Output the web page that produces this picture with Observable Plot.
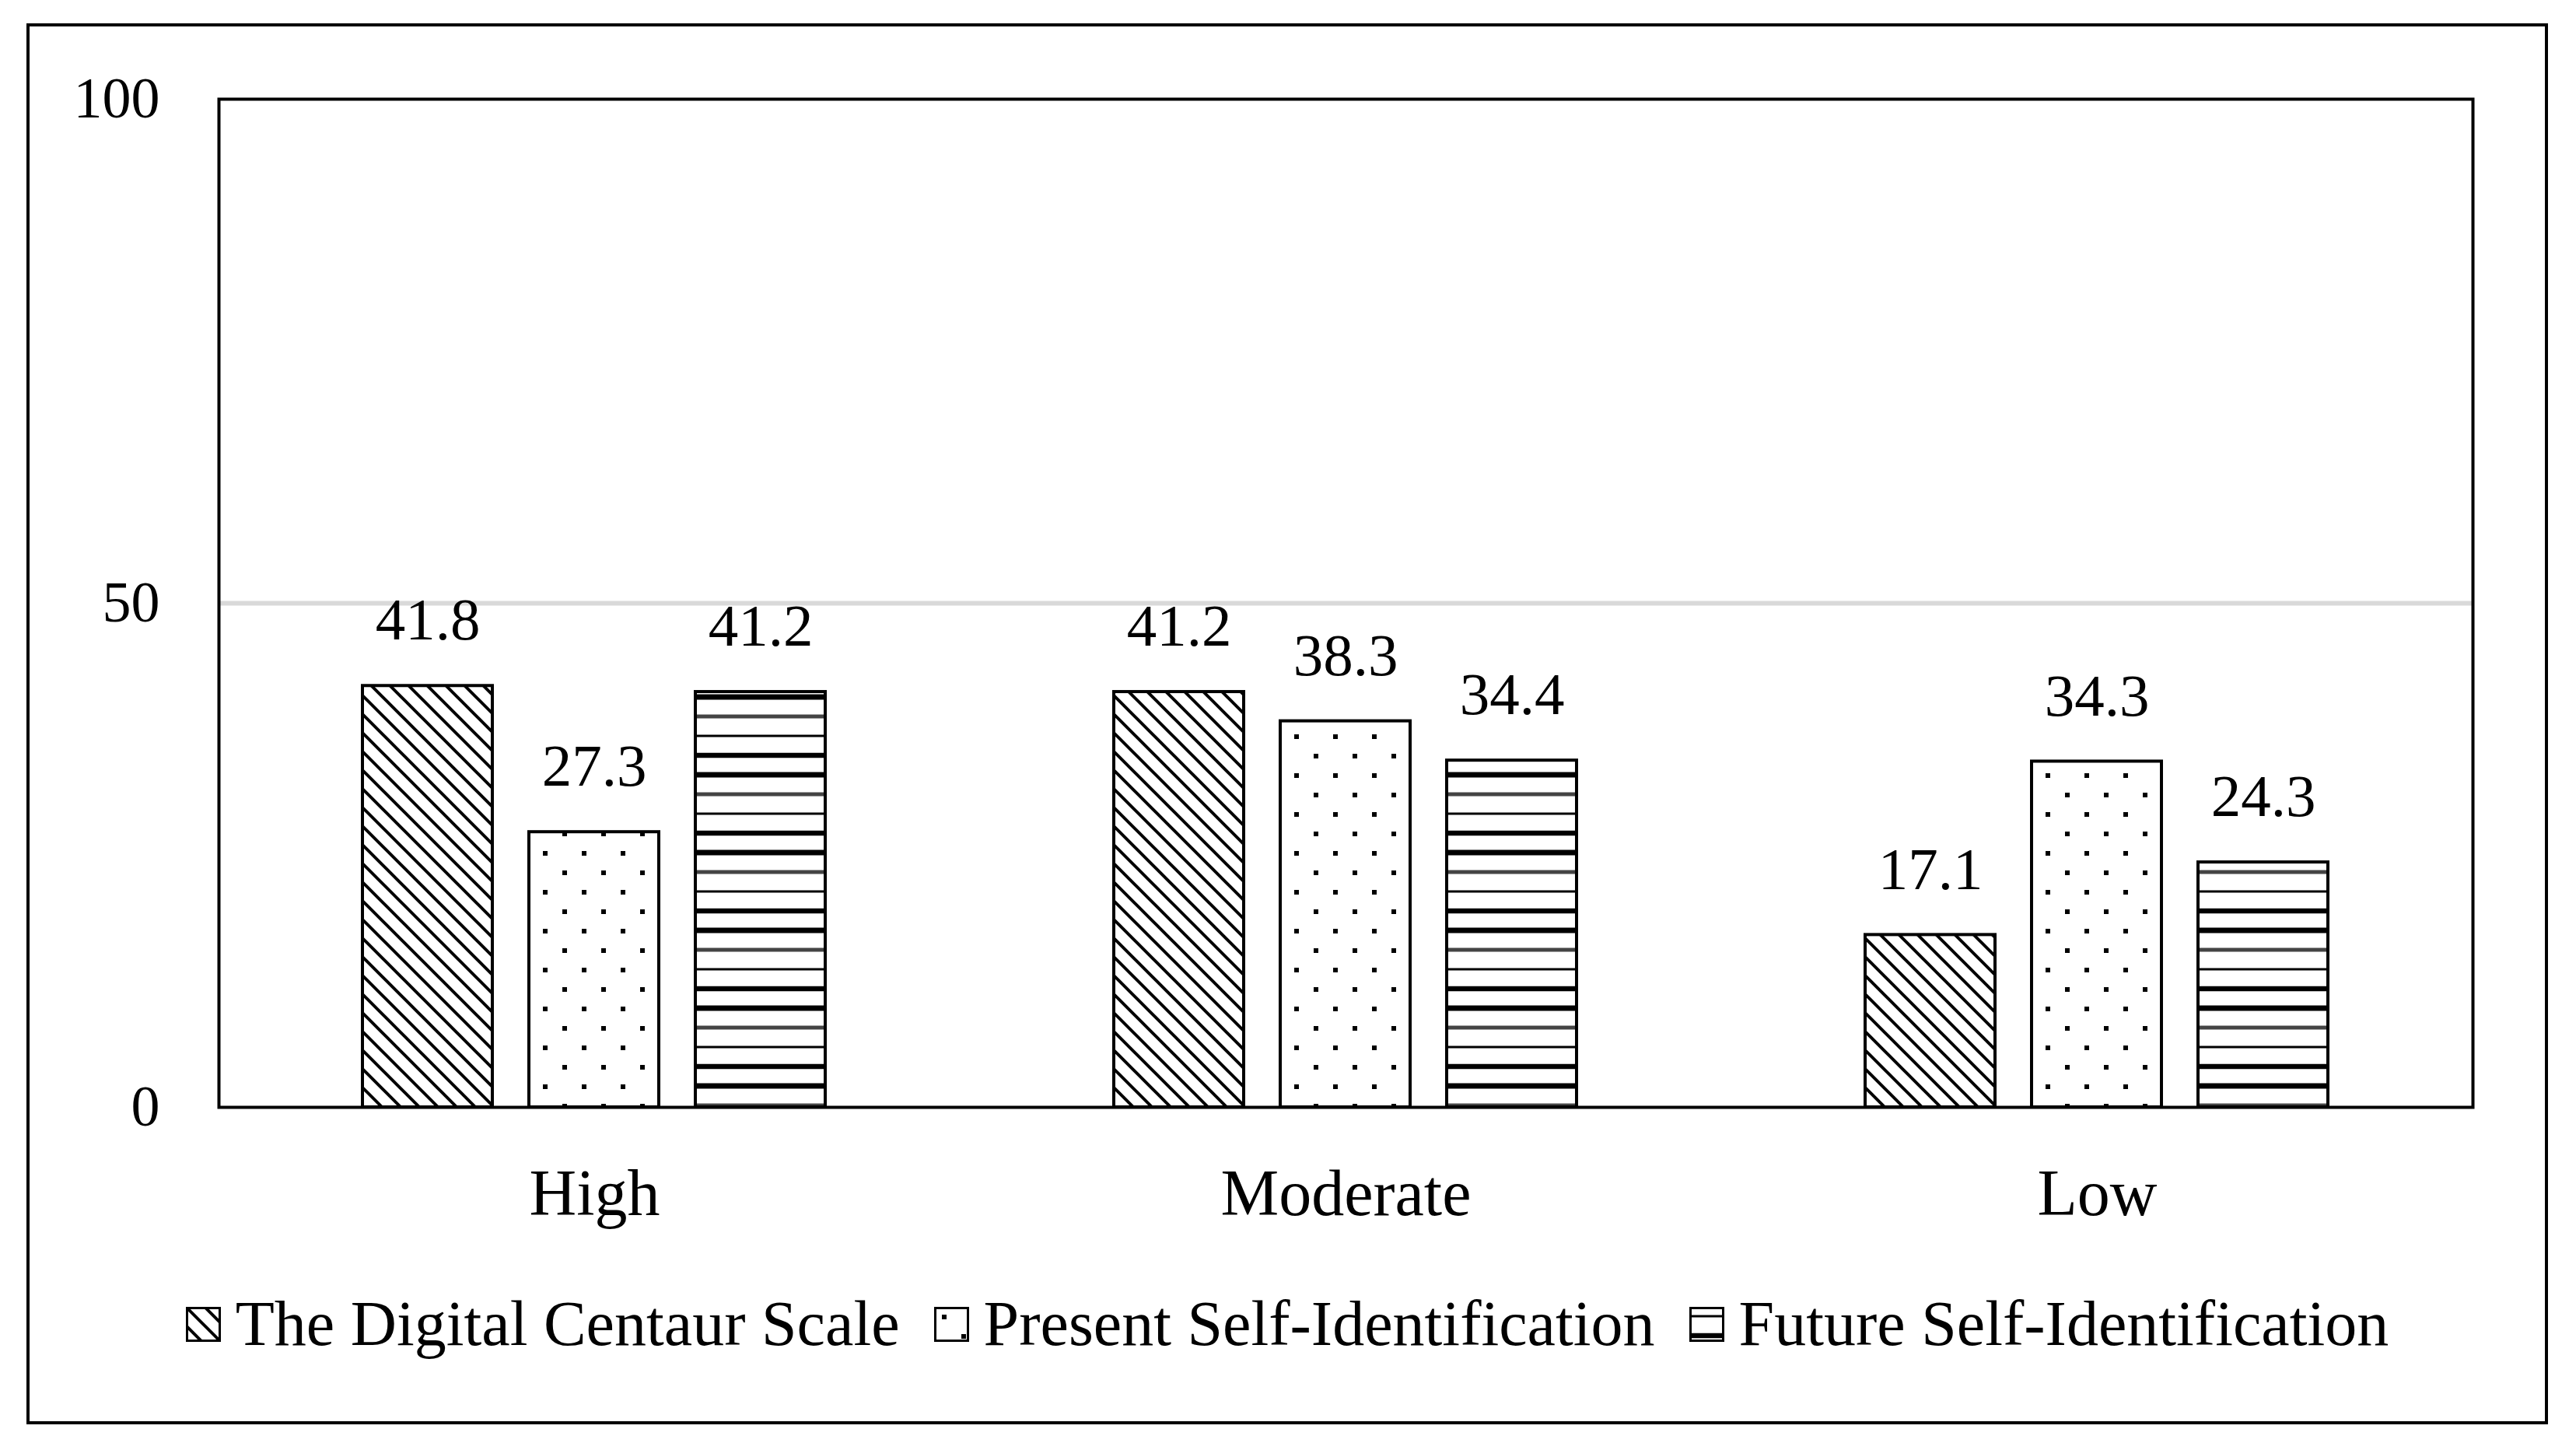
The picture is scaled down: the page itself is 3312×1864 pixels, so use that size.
<!DOCTYPE html>
<html>
<head>
<meta charset="utf-8">
<script src="https://cdn.jsdelivr.net/npm/d3@7"></script>
<script src="https://cdn.jsdelivr.net/npm/@observablehq/plot@0.6"></script>
<style>
  html, body { margin: 0; padding: 0; background: #fff; }
  body { width: 3312px; height: 1864px; position: relative; overflow: hidden;
         font-family: "Liberation Serif", "Times New Roman", serif; color: #000; }
  #box { position: absolute; left: 34px; top: 30px; width: 3242px; height: 1801px;
         border: 4px solid #000; box-sizing: border-box; }
  #legend { margin-top: 58px; height: 100px; display: flex; justify-content: center;
            align-items: center; font-size: 82px; line-height: 100px; }
  .item { display: flex; align-items: center; margin: 0 22px; }
  .item svg { margin-right: 19px; }
</style>
</head>
<body>
<svg width="0" height="0" style="position:absolute">
  <defs>
    <pattern id="p-diag" patternUnits="userSpaceOnUse" width="24" height="24">
      <rect width="24" height="24" fill="#fff"/>
      <path d="M-6,-6L30,30M-6,18L6,30M18,-6L30,6" stroke="#000" stroke-width="4"/>
    </pattern>
    <pattern id="p-dots" patternUnits="userSpaceOnUse" width="50" height="50">
      <rect width="50" height="50" fill="#fff"/>
      <rect x="10" y="10" width="6" height="6" fill="#000"/>
      <rect x="35" y="35" width="6" height="6" fill="#000"/>
    </pattern>
    <pattern id="p-hlines" patternUnits="userSpaceOnUse" width="20" height="100">
      <rect width="20" height="100" fill="#fff"/>
      <line x1="0" x2="20" y1="12" y2="12" stroke="#000" stroke-width="3"/>
      <line x1="0" x2="20" y1="37" y2="37" stroke="#000" stroke-width="6.5"/>
      <line x1="0" x2="20" y1="62" y2="62" stroke="#000" stroke-width="7"/>
      <line x1="0" x2="20" y1="87" y2="87" stroke="#444" stroke-width="5"/>
    </pattern>
  </defs>
</svg>
<div id="box">
  <div id="chart"></div>
  <div id="legend"></div>
</div>
<script>
// ---- data ----
const groups = ["High", "Moderate", "Low"];
const series = ["The Digital Centaur Scale", "Present Self-Identification", "Future Self-Identification"];
const digitalCentaur = [41.8, 41.2, 17.1];
const presentSelf = [27.3, 38.3, 34.3];
const futureSelf = [41.2, 34.4, 24.3];
const yTicks = [0, 50, 100];

// ---- styles ----
const patternFills = ["url(#p-diag)", "url(#p-dots)", "url(#p-hlines)"];

const seriesValues = [digitalCentaur, presentSelf, futureSelf];
const table = [];
groups.forEach((g, gi) => {
  series.forEach((s, si) => {
    table.push({ group: g, series: s, value: seriesValues[si][gi] });
  });
});

function build(useSuper) {
  const marks = [
    Plot.ruleY([50], { stroke: "#d9d9d9", strokeWidth: 6 }),
    Plot.barY(table, { fx: "group", x: "series", y: "value", fill: "series", stroke: "#000", strokeWidth: 4 }),
    Plot.text(table, { fx: "group", x: "series", y: "value", text: d => d.value.toFixed(1),
                       dy: -84, fontSize: 77, fill: "#000" }),
    Plot.axisFx({ anchor: "bottom", tickSize: 0, tickPadding: 79, fontSize: 84, label: null })
  ];
  if (useSuper) marks.push(Plot.frame({ facet: "super", stroke: "#000", strokeWidth: 4 }));
  return Plot.plot({
    width: 3234,
    height: 1560,
    marginLeft: 243,
    marginRight: 93,
    marginTop: 93,
    marginBottom: 171,
    style: { fontFamily: "Liberation Serif, Times New Roman, serif", fontSize: "74px", color: "#000", background: "#fff" },
    fx: { domain: groups, padding: 0, label: null },
    x: { domain: series, paddingInner: 0.2186, paddingOuter: 0.856, axis: null },
    y: { domain: [0, 100], ticks: yTicks, tickSize: 0, tickPadding: 76, label: null },
    color: { type: "ordinal", domain: series, range: patternFills },
    marks
  });
}

let chart;
let usedSuper = true;
try {
  chart = build(true);
  if (!chart.querySelector('[aria-label="frame"]')) throw new Error("no frame");
} catch (e) {
  usedSuper = false;
  chart = build(false);
}
document.getElementById("chart").appendChild(chart);
if (!usedSuper) {
  d3.select(chart).append("rect")
    .attr("x", 243).attr("y", 93).attr("width", 3234 - 243 - 93).attr("height", 1560 - 93 - 171)
    .attr("fill", "none").attr("stroke", "#000").attr("stroke-width", 4);
}

// ---- legend ----
const legend = d3.select("#legend");
series.forEach((s, i) => {
  const item = legend.append("div").attr("class", "item");
  const sw = item.append("svg").attr("width", 45).attr("height", 45);
  sw.append("rect").attr("x", 1.5).attr("y", 1.5).attr("width", 42).attr("height", 42)
    .attr("fill", patternFills[i]).attr("stroke", "#000").attr("stroke-width", 3);
  item.append("span").text(s);
});
</script>
</body>
</html>
